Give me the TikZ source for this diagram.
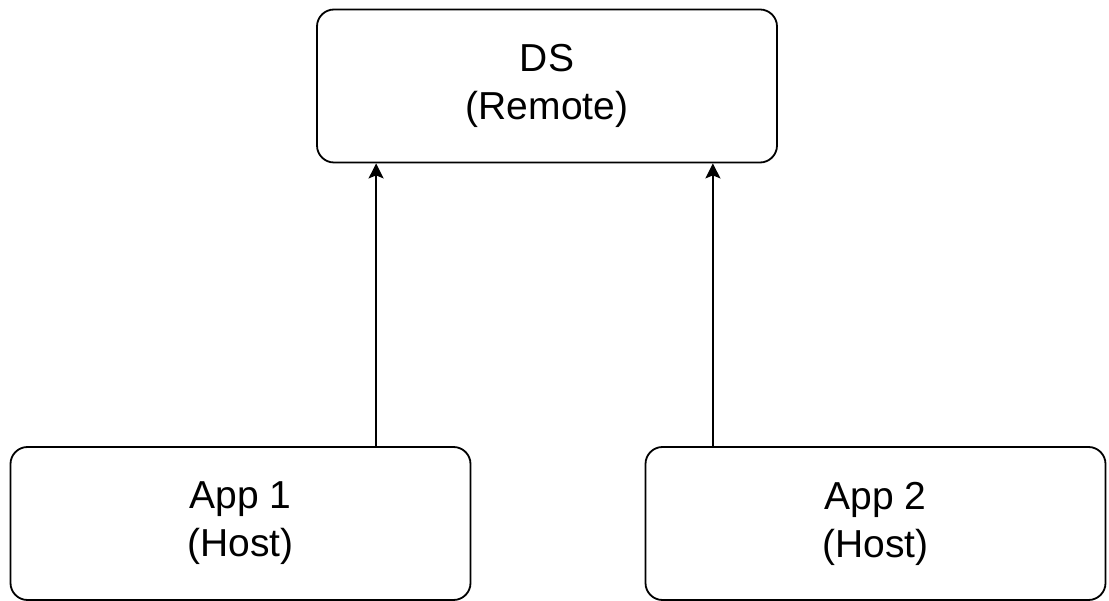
\documentclass[tikz,border=0pt]{standalone}
\usepackage{fontspec}
\setmainfont{Liberation Sans}
\usetikzlibrary{arrows.meta}
\tikzset{blk/.style={ draw, line width=1.8pt, rounded corners=17pt, minimum width=460pt, minimum height=153pt, align=center, font=\fontsize{39}{48}\selectfont, inner sep=0pt}}
\tikzset{up/.style={ line width=1.8pt, -{Stealth[length=15pt,width=15pt,inset=3pt]}}}

\begin{document}
\begin{tikzpicture}[x=1pt, y=1pt]
\useasboundingbox (0,0) rectangle (1109,-601);
\node[blk] (ds) at (547,-86) {DS\\(Remote)};
\node[blk] (app1) at (240.5,-523.5) {App 1\\(Host)};
\node[blk] (app2) at (875.5,-523.5) {App 2\\(Host)};
\coordinate (in1) at ([xshift=60pt]ds.south west);
\coordinate (in2) at ([xshift=-65pt]ds.south east);
\draw[up] (app1.north -| in1) -- (in1);
\draw[up] (app2.north -| in2) -- (in2);
\end{tikzpicture}
\end{document}
